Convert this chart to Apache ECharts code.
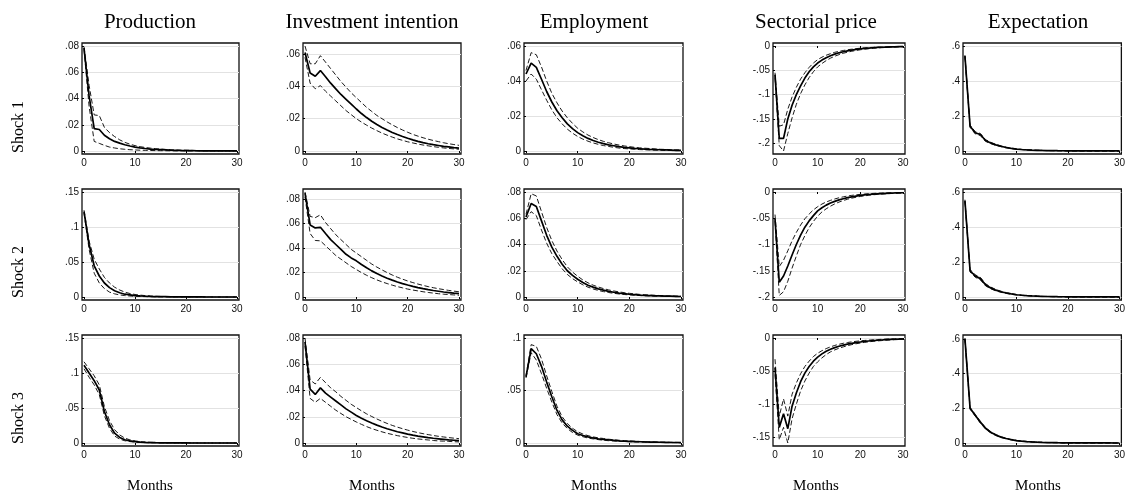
<!DOCTYPE html>
<html>
<head>
<meta charset="utf-8">
<script src="https://cdn.jsdelivr.net/npm/echarts@6/dist/echarts.min.js"></script>
<style>
html,body{margin:0;padding:0;background:#fff;}
#chart{width:1128px;height:496px;}
</style>
</head>
<body>
<div id="chart"></div>
<script>
// ---------------- DATA ----------------
const months = [0,1,2,3,4,5,6,7,8,9,10,11,12,13,14,15,16,17,18,19,20,21,22,23,24,25,26,27,28,29,30];
const variables = ['Production','Investment intention','Employment','Sectorial price','Expectation'];
const shocks = ['Shock 1','Shock 2','Shock 3'];
const xTicks = [0,10,20,30];
const xTitle = 'Months';

// y tick labels per panel
const ticksProdS1 = [0,0.02,0.04,0.06,0.08];
const ticksProdS2 = [0,0.05,0.1,0.15];
const ticksProdS3 = [0,0.05,0.1,0.15];
const ticksInvS1 = [0,0.02,0.04,0.06];
const ticksInvS2 = [0,0.02,0.04,0.06,0.08];
const ticksInvS3 = [0,0.02,0.04,0.06,0.08];
const ticksEmpS1 = [0,0.02,0.04,0.06];
const ticksEmpS2 = [0,0.02,0.04,0.06,0.08];
const ticksEmpS3 = [0,0.05,0.1];
const ticksPriceS1 = [-0.2,-0.15,-0.1,-0.05,0];
const ticksPriceS2 = [-0.2,-0.15,-0.1,-0.05,0];
const ticksPriceS3 = [-0.15,-0.1,-0.05,0];
const ticksExpS1 = [0,0.2,0.4,0.6];
const ticksExpS2 = [0,0.2,0.4,0.6];
const ticksExpS3 = [0,0.2,0.4,0.6];

// Shock 1
const prodS1   = [.0785,.042,.017,.0164,.012,.0093,.0073,.006,.0048,.0038,.003,.0024,.0019,.0015,.0012,.001,.0008,.0006,.0005,.0004,.0003,.00025,.0002,.00016,.00013,.0001,.00008,.00006,.00005,.00004,.00003];
const prodS1Hi = [.0795,.05,.0275,.027,.018,.014,.011,.0085,.0066,.0052,.0041,.0033,.0027,.0022,.0018,.0015,.0012,.001,.0008,.0007,.0006,.0005,.0004,.0003,.00025,.0002,.00016,.00013,.0001,.00008,.00006];
const prodS1Lo = [.0775,.034,.0073,.0058,.0043,.003,.0023,.0017,.0013,.001,.0008,.0006,.0005,.0004,.0003,.00025,.0002,.00015,.00012,.0001,.00008,.00006,.00005,.00004,.00003,.00002,.00002,.00001,.00001,.00001,0];

const invS1   = [.061,.0483,.0463,.0498,.046,.042,.0385,.035,.032,.029,.026,.0232,.0207,.0184,.0164,.0146,.013,.0115,.0102,.009,.0079,.0069,.006,.0052,.0045,.0039,.0034,.0029,.0025,.0021,.0018];
const invS1Hi = [.065,.054,.054,.059,.055,.051,.047,.043,.0395,.036,.033,.030,.027,.0245,.022,.020,.018,.0162,.0145,.013,.0116,.0103,.0092,.0082,.0073,.0065,.0058,.0051,.0045,.004,.0035];
const invS1Lo = [.058,.042,.0385,.0405,.037,.034,.031,.028,.025,.0225,.020,.0179,.016,.0142,.0126,.0111,.0098,.0086,.0075,.0066,.0057,.005,.0043,.0037,.0032,.0027,.0023,.0019,.0016,.0013,.0011];

const empS1   = [.044,.0502,.0478,.041,.034,.028,.023,.019,.0155,.0128,.0105,.0087,.0072,.006,.005,.0042,.0035,.003,.0025,.0021,.0018,.0015,.0013,.0011,.0009,.0008,.0007,.0006,.0005,.0004,.0004];
const empS1Hi = [.046,.0562,.055,.048,.040,.033,.0275,.0228,.019,.0158,.013,.0109,.0091,.0077,.0065,.0055,.0047,.004,.0034,.0029,.0025,.0021,.0018,.0016,.0014,.0012,.001,.0009,.0008,.0007,.0006];
const empS1Lo = [.040,.044,.041,.035,.029,.0235,.019,.0155,.0125,.0102,.0083,.0068,.0056,.0046,.0038,.0031,.0026,.0021,.0017,.0014,.0012,.001,.0008,.0007,.0006,.0005,.0004,.0003,.0003,.0002,.0002];

const priceS1   = [-.059,-.19,-.19,-.15,-.122,-.100,-.082,-.066,-.053,-.043,-.035,-.029,-.024,-.020,-.0168,-.014,-.0118,-.0099,-.0083,-.007,-.0059,-.005,-.0042,-.0036,-.003,-.0026,-.0022,-.0019,-.0016,-.0014,-.0012];
const priceS1Hi = [-.055,-.165,-.162,-.13,-.105,-.085,-.068,-.055,-.044,-.035,-.028,-.023,-.019,-.0158,-.013,-.011,-.0092,-.0077,-.0065,-.0054,-.0045,-.0038,-.0032,-.0027,-.0023,-.002,-.0017,-.0014,-.0012,-.001,-.0008];
const priceS1Lo = [-.065,-.205,-.216,-.18,-.148,-.12,-.098,-.08,-.065,-.053,-.043,-.036,-.030,-.025,-.021,-.0178,-.015,-.0127,-.0108,-.0092,-.0078,-.0066,-.0056,-.0048,-.0041,-.0035,-.003,-.0026,-.0022,-.0019,-.0016];

const expS1   = [.543,.1415,.104,.094,.060,.046,.035,.027,.020,.015,.011,.0085,.0066,.0052,.0041,.0032,.0025,.002,.0016,.0013,.001,.0008,.0007,.0006,.0005,.0004,.0003,.0003,.0002,.0002,.0002];
const expS1Hi = [.548,.148,.110,.100,.065,.050,.038,.0295,.022,.0165,.0122,.0094,.0073,.0058,.0046,.0036,.0028,.0022,.0018,.0015,.0012,.0009,.0008,.0007,.0006,.0005,.0004,.0003,.0003,.0002,.0002];
const expS1Lo = [.538,.135,.098,.088,.055,.042,.032,.0245,.018,.0135,.0098,.0076,.0059,.0046,.0036,.0028,.0022,.0018,.0014,.0011,.0009,.0007,.0006,.0005,.0004,.0003,.0002,.0002,.0002,.0001,.0001];

// Shock 2
const prodS2   = [.122,.075,.0446,.030,.020,.0134,.009,.006,.004,.003,.002,.0015,.0011,.0008,.0006,.0005,.0004,.0003,.0002,.0002,.0001,.0001,.0001,.0001,0,0,0,0,0,0,0];
const prodS2Hi = [.124,.08,.054,.040,.028,.020,.014,.010,.007,.005,.0036,.0027,.002,.0015,.0011,.0008,.0006,.0005,.0004,.0003,.0002,.0002,.0001,.0001,.0001,.0001,0,0,0,0,0];
const prodS2Lo = [.120,.068,.034,.020,.012,.007,.0045,.003,.002,.0014,.001,.0007,.0005,.0004,.0003,.0002,.0001,.0001,.0001,0,0,0,0,0,0,0,0,0,0,0,0];

const invS2   = [.085,.059,.0566,.0571,.052,.047,.043,.039,.035,.032,.0296,.0266,.0239,.0214,.0192,.0172,.0154,.0138,.0123,.011,.0098,.0087,.0077,.0068,.006,.0053,.0047,.0041,.0036,.0031,.0027];
const invS2Hi = [.086,.066,.065,.0673,.061,.056,.051,.047,.043,.039,.036,.033,.030,.027,.0245,.0222,.020,.018,.0162,.0146,.0131,.0118,.0106,.0095,.0085,.0076,.0068,.0061,.0054,.0048,.0043];
const invS2Lo = [.082,.052,.0463,.046,.042,.038,.034,.031,.028,.025,.0225,.020,.0178,.0158,.014,.0124,.011,.0097,.0085,.0075,.0065,.0057,.005,.0043,.0037,.0032,.0027,.0023,.002,.0017,.0014];

const empS2   = [.061,.0712,.069,.058,.047,.038,.031,.025,.020,.0165,.0135,.011,.009,.0075,.0062,.0052,.0043,.0036,.003,.0025,.0021,.0018,.0015,.0013,.0011,.0009,.0008,.0007,.0006,.0005,.0004];
const empS2Hi = [.063,.0787,.077,.065,.053,.043,.035,.0285,.023,.019,.0158,.013,.0108,.009,.0076,.0064,.0054,.0046,.0039,.0033,.0028,.0024,.002,.0017,.0015,.0013,.0011,.0009,.0008,.0007,.0006];
const empS2Lo = [.059,.065,.062,.051,.041,.033,.027,.0215,.0172,.014,.0115,.0093,.0075,.0061,.005,.0041,.0034,.0028,.0023,.0019,.0016,.0013,.0011,.0009,.0008,.0007,.0006,.0005,.0004,.0003,.0003];

const priceS2   = [-.051,-.172,-.16,-.141,-.12,-.10,-.082,-.067,-.055,-.045,-.036,-.030,-.025,-.021,-.0178,-.015,-.0128,-.0108,-.0092,-.0078,-.0066,-.0056,-.0048,-.0041,-.0035,-.003,-.0026,-.0022,-.0019,-.0016,-.0014];
const priceS2Hi = [-.043,-.142,-.13,-.112,-.093,-.077,-.063,-.051,-.042,-.034,-.028,-.023,-.019,-.016,-.0133,-.011,-.0092,-.0077,-.0064,-.0054,-.0045,-.0038,-.0032,-.0027,-.0023,-.002,-.0017,-.0014,-.0012,-.001,-.0009];
const priceS2Lo = [-.055,-.197,-.19,-.17,-.145,-.122,-.10,-.083,-.068,-.056,-.046,-.038,-.032,-.027,-.0227,-.0192,-.0163,-.0138,-.0117,-.01,-.0085,-.0073,-.0062,-.0053,-.0046,-.004,-.0034,-.003,-.0026,-.0022,-.0019];

const expS2   = [.55,.15,.12,.105,.07,.052,.039,.03,.023,.0175,.013,.01,.0078,.006,.0047,.0037,.0029,.0023,.0018,.0014,.0011,.0009,.0007,.0006,.0005,.0004,.0003,.0003,.0002,.0002,.0002];
const expS2Hi = [.556,.157,.127,.112,.076,.057,.043,.033,.0255,.0195,.0145,.0112,.0087,.0067,.0053,.0042,.0033,.0026,.002,.0016,.0013,.001,.0008,.0007,.0006,.0005,.0004,.0003,.0003,.0002,.0002];
const expS2Lo = [.544,.143,.113,.098,.064,.047,.035,.027,.0205,.0155,.0115,.0088,.0069,.0053,.0041,.0032,.0025,.002,.0016,.0012,.0009,.0008,.0006,.0005,.0004,.0003,.0002,.0002,.0002,.0001,.0001];

// Shock 3
const prodS3   = [.111,.0999,.089,.0757,.045,.026,.014,.008,.0047,.003,.002,.0013,.0009,.0006,.0004,.0003,.0002,.0002,.0001,.0001,.0001,0,0,0,0,0,0,0,0,0,0];
const prodS3Hi = [.116,.106,.096,.083,.052,.032,.019,.0115,.007,.0045,.003,.002,.0014,.001,.0007,.0005,.0004,.0003,.0002,.0002,.0001,.0001,.0001,0,0,0,0,0,0,0,0];
const prodS3Lo = [.106,.094,.083,.069,.039,.021,.010,.0055,.0032,.002,.0012,.0008,.0005,.0003,.0002,.0002,.0001,.0001,0,0,0,0,0,0,0,0,0,0,0,0,0];

const invS3   = [.077,.041,.037,.042,.038,.035,.032,.029,.026,.0235,.021,.0189,.017,.0152,.0136,.0122,.0109,.0097,.0086,.0077,.0068,.006,.0053,.0047,.0041,.0036,.0032,.0028,.0024,.0021,.0018];
const invS3Hi = [.080,.048,.045,.050,.046,.042,.039,.0355,.0325,.0295,.027,.0245,.0222,.0202,.0183,.0165,.0149,.0134,.0121,.0109,.0098,.0088,.0079,.0071,.0064,.0057,.0051,.0046,.0041,.0037,.0033];
const invS3Lo = [.074,.034,.031,.034,.031,.028,.025,.0225,.020,.018,.016,.0142,.0125,.011,.0097,.0085,.0074,.0065,.0056,.0049,.0042,.0036,.0031,.0027,.0023,.0019,.0016,.0014,.0012,.001,.0008];

const empS3   = [.063,.0899,.085,.073,.058,.044,.031,.022,.016,.012,.0088,.0071,.0058,.0048,.004,.0034,.0029,.0025,.0021,.0018,.0016,.0014,.0012,.001,.0009,.0008,.0007,.0006,.0005,.0005,.0004];
const empS3Hi = [.064,.0937,.092,.080,.064,.049,.035,.025,.0185,.014,.0107,.0086,.007,.0058,.0049,.0043,.0036,.0031,.0026,.0023,.002,.0017,.0015,.0013,.0011,.001,.0009,.0008,.0007,.0006,.0005];
const empS3Lo = [.062,.086,.079,.066,.052,.039,.027,.019,.0138,.010,.0075,.006,.0047,.0039,.0032,.0026,.0022,.0019,.0016,.0014,.0012,.001,.0009,.0008,.0007,.0006,.0005,.0004,.0004,.0003,.0003];

const priceS3   = [-.0446,-.135,-.1145,-.137,-.103,-.083,-.066,-.053,-.043,-.035,-.029,-.024,-.020,-.017,-.0145,-.0125,-.0107,-.0092,-.008,-.007,-.006,-.0052,-.0045,-.0039,-.0034,-.003,-.0026,-.0022,-.0019,-.0017,-.0015];
const priceS3Hi = [-.032,-.118,-.092,-.118,-.085,-.068,-.054,-.043,-.035,-.028,-.023,-.0192,-.016,-.0134,-.0112,-.0095,-.008,-.0068,-.0058,-.005,-.0043,-.0037,-.0032,-.0027,-.0023,-.002,-.0017,-.0014,-.0012,-.001,-.0009];
const priceS3Lo = [-.055,-.1536,-.135,-.1586,-.122,-.10,-.080,-.065,-.053,-.043,-.036,-.030,-.025,-.021,-.018,-.0155,-.0134,-.0116,-.01,-.0087,-.0076,-.0066,-.0058,-.005,-.0044,-.0039,-.0034,-.003,-.0026,-.0023,-.002];

const expS3   = [.60,.20,.16,.12,.085,.062,.046,.034,.026,.019,.014,.0105,.008,.006,.0046,.0035,.0027,.0021,.0016,.0012,.001,.0008,.0006,.0005,.0004,.0003,.0003,.0002,.0002,.0001,.0001];
const expS3Hi = [.605,.205,.165,.125,.089,.065,.049,.036,.0275,.0205,.0152,.0114,.0087,.0066,.005,.0039,.003,.0023,.0018,.0014,.0011,.0009,.0007,.0005,.0004,.0004,.0003,.0002,.0002,.0002,.0001];
const expS3Lo = [.595,.195,.155,.115,.081,.059,.043,.032,.0245,.0178,.0128,.0096,.0073,.0055,.0042,.0032,.0024,.0019,.0014,.0011,.0009,.0007,.0005,.0004,.0003,.0003,.0002,.0002,.0001,.0001,.0001];

// ---------------- LAYOUT ----------------
const panels = [
  [[prodS1,prodS1Hi,prodS1Lo,ticksProdS1],[invS1,invS1Hi,invS1Lo,ticksInvS1],[empS1,empS1Hi,empS1Lo,ticksEmpS1],[priceS1,priceS1Hi,priceS1Lo,ticksPriceS1],[expS1,expS1Hi,expS1Lo,ticksExpS1]],
  [[prodS2,prodS2Hi,prodS2Lo,ticksProdS2],[invS2,invS2Hi,invS2Lo,ticksInvS2],[empS2,empS2Hi,empS2Lo,ticksEmpS2],[priceS2,priceS2Hi,priceS2Lo,ticksPriceS2],[expS2,expS2Hi,expS2Lo,ticksExpS2]],
  [[prodS3,prodS3Hi,prodS3Lo,ticksProdS3],[invS3,invS3Hi,invS3Lo,ticksInvS3],[empS3,empS3Hi,empS3Lo,ticksEmpS3],[priceS3,priceS3Hi,priceS3Lo,ticksPriceS3],[expS3,expS3Hi,expS3Lo,ticksExpS3]]
];

const colLeft  = [82, 303, 524, 773, 963];
const colRight = [239, 461, 683, 905, 1127];
const colCenter = [150, 372, 594, 816, 1038];
const rowTop = [43, 189, 335];
const rowH = 111;
const rowLabelY = [127, 272, 418];

const tickFont = "Liberation Sans, Arial, sans-serif";
const serif = "'Liberation Serif', 'Times New Roman', serif";

function fmt(v) {
  let s = String(+Number(v).toFixed(4));
  if (s.startsWith('0.')) s = s.slice(1);
  else if (s.startsWith('-0.')) s = '-' + s.slice(2);
  return s;
}

const grids = [], xAxes = [], yAxes = [], series = [];
let k = 0;
for (let r = 0; r < 3; r++) {
  for (let c = 0; c < 5; c++) {
    const [mid, hi, lo, ticks] = panels[r][c];
    const w = colRight[c] - colLeft[c];
    const all = mid.concat(hi, lo, ticks);
    const dLo = Math.min.apply(null, all), dHi = Math.max.apply(null, all);
    const pad = (dHi - dLo) * 3 / (rowH - 6);
    const xPad = 2 * 30 / (w - 4);
    grids.push({left: colLeft[c], top: rowTop[r], width: w, height: rowH,
      show: true, borderColor: '#111', borderWidth: 1.3, backgroundColor: '#fff'});
    xAxes.push({gridIndex: k, type: 'value', min: -xPad, max: 30 + xPad,
      axisLine: {show: false},
      axisTick: {show: true, length: 2, customValues: xTicks, lineStyle: {color: '#000', width: 1}},
      axisLabel: {customValues: xTicks, margin: 4, fontSize: 10, fontFamily: tickFont, color: '#111', formatter: fmt},
      splitLine: {show: false}});
    yAxes.push({gridIndex: k, type: 'value', min: dLo - pad, max: dHi + pad,
      axisLine: {show: false},
      axisTick: {show: true, length: 2, customValues: ticks, lineStyle: {color: '#000', width: 1}},
      axisLabel: {customValues: ticks, margin: 3, fontSize: 10, fontFamily: tickFont, color: '#111', formatter: fmt},
      splitLine: {show: true, lineStyle: {color: '#e2e2e2', width: 1.2}}});
    const mk = (arr, solid) => ({
      type: 'line', xAxisIndex: k, yAxisIndex: k, symbol: 'none', silent: true,
      data: arr.map((v, i) => [months[i], v]),
      lineStyle: solid ? {color: '#000', width: 1.7} : {color: '#000', width: 0.9, type: [5, 2.5]},
      z: solid ? 3 : 2
    });
    series.push(mk(hi, false), mk(lo, false), mk(mid, true));
    k++;
  }
}

const graphic = [];
for (let c = 0; c < 5; c++) {
  graphic.push({type: 'text', x: colCenter[c], y: 22, silent: true,
    style: {text: variables[c], font: "21px " + serif, fill: '#000', align: 'center', verticalAlign: 'middle'}});
  graphic.push({type: 'text', x: colCenter[c], y: 486, silent: true,
    style: {text: xTitle, font: "15px " + serif, fill: '#000', align: 'center', verticalAlign: 'middle'}});
}
for (let r = 0; r < 3; r++) {
  graphic.push({type: 'text', x: 19, y: rowLabelY[r], rotation: Math.PI / 2, silent: true,
    style: {text: shocks[r], font: "16px " + serif, fill: '#000', align: 'center', verticalAlign: 'middle'}});
}

const chart = echarts.init(document.getElementById('chart'), null, {renderer: 'canvas'});
chart.setOption({
  animation: false,
  backgroundColor: '#fff',
  grid: grids, xAxis: xAxes, yAxis: yAxes, series: series, graphic: graphic
});
</script>
</body>
</html>
